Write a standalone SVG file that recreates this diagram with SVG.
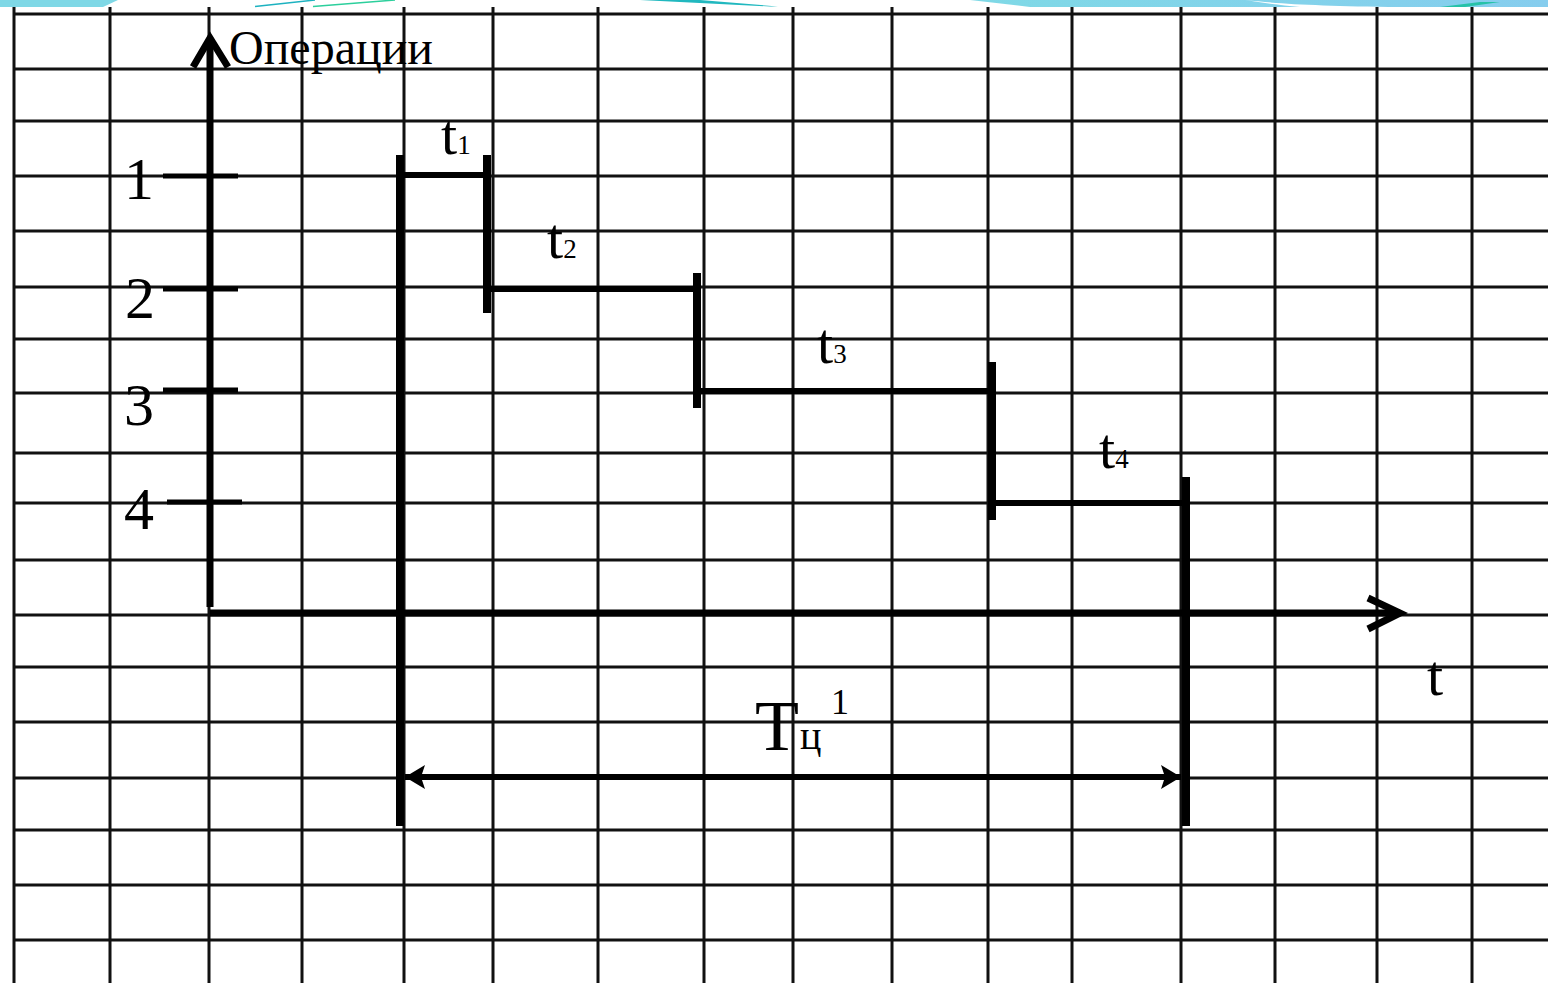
<svg xmlns="http://www.w3.org/2000/svg" width="1548" height="983" viewBox="0 0 1548 983">
<style>
.grid line{stroke:#111;stroke-width:3}
.ax{stroke:#000;stroke-width:7;fill:none;stroke-linecap:butt}
.g{stroke:#000;stroke-width:8;fill:none}
.gh{stroke:#000;stroke-width:6;fill:none}
.tk{stroke:#000;stroke-width:5;fill:none}
.lbl{font-family:"Liberation Serif","Times New Roman",serif;fill:#000}
</style>
<defs>
<marker id="dimArr" viewBox="0 0 20 24" refX="20" refY="12" markerWidth="20" markerHeight="24" markerUnits="userSpaceOnUse" orient="auto-start-reverse">
<path d="M0,0 L20,12 L0,24 L4,12 Z" fill="#000"/>
</marker>
<linearGradient id="band" x1="0" y1="0" x2="1" y2="0">
<stop offset="0" stop-color="#7fd9e6"/>
<stop offset="1" stop-color="#86cdee"/>
</linearGradient>
</defs>
<rect x="0" y="0" width="1548" height="983" fill="#fff"/>
<g id="band-top">
<polygon points="0,0 118,0 103,7 0,7" fill="#7fd8e6"/>
<line x1="255" y1="6.5" x2="315" y2="0" stroke="#1db2c0" stroke-width="1.5"/>
<line x1="313" y1="6.5" x2="395" y2="0" stroke="#2ccf9c" stroke-width="1.5"/>
<polygon points="640,0 700,0 778,6.5 770,6.5" fill="#21b8bf"/>
<polygon points="970,0 1548,0 1548,7 1030,7" fill="url(#band)"/>
<path d="M1245,0 C1280,4 1320,6 1400,7 L1300,7 C1280,5 1262,3 1245,0 Z" fill="#fff"/>
<polygon points="1440,7 1480,2 1500,2 1465,7" fill="#26c2a8"/>
</g>
<g id="grid" class="grid">
<line x1="14" y1="7" x2="14" y2="983"/>
<line x1="110" y1="7" x2="110" y2="983"/>
<line x1="209" y1="7" x2="209" y2="983"/>
<line x1="302" y1="7" x2="302" y2="983"/>
<line x1="404" y1="7" x2="404" y2="983"/>
<line x1="493" y1="7" x2="493" y2="983"/>
<line x1="598" y1="7" x2="598" y2="983"/>
<line x1="704" y1="7" x2="704" y2="983"/>
<line x1="793" y1="7" x2="793" y2="983"/>
<line x1="892" y1="7" x2="892" y2="983"/>
<line x1="988" y1="7" x2="988" y2="983"/>
<line x1="1072" y1="7" x2="1072" y2="983"/>
<line x1="1181" y1="7" x2="1181" y2="983"/>
<line x1="1275" y1="7" x2="1275" y2="983"/>
<line x1="1377" y1="7" x2="1377" y2="983"/>
<line x1="1472" y1="7" x2="1472" y2="983"/>
<line x1="14" y1="14" x2="1548" y2="14"/>
<line x1="14" y1="69" x2="1548" y2="69"/>
<line x1="14" y1="121" x2="1548" y2="121"/>
<line x1="14" y1="176" x2="1548" y2="176"/>
<line x1="14" y1="231" x2="1548" y2="231"/>
<line x1="14" y1="287" x2="1548" y2="287"/>
<line x1="14" y1="339" x2="1548" y2="339"/>
<line x1="14" y1="393" x2="1548" y2="393"/>
<line x1="14" y1="453" x2="1548" y2="453"/>
<line x1="14" y1="503" x2="1548" y2="503"/>
<line x1="14" y1="560" x2="1548" y2="560"/>
<line x1="14" y1="615" x2="1548" y2="615"/>
<line x1="14" y1="667" x2="1548" y2="667"/>
<line x1="14" y1="722" x2="1548" y2="722"/>
<line x1="14" y1="778" x2="1548" y2="778"/>
<line x1="14" y1="830" x2="1548" y2="830"/>
<line x1="14" y1="885" x2="1548" y2="885"/>
<line x1="14" y1="940" x2="1548" y2="940"/>
</g>
<g id="axes">
<line class="ax" x1="210" y1="607" x2="210" y2="38"/>
<polyline class="ax" points="193,67 210,38 228,67"/>
<line class="ax" x1="210" y1="613" x2="1400" y2="613"/>
<polyline class="ax" points="1368,598 1400,613 1368,629"/>
<line class="tk" x1="163" y1="176" x2="238" y2="176"/>
<line class="tk" x1="163" y1="289" x2="238" y2="289"/>
<line class="tk" x1="163" y1="390" x2="238" y2="390"/>
<line class="tk" x1="167" y1="502" x2="242" y2="502"/>
<text class="lbl" x="229" y="64" font-size="48">Операции</text>
<text class="lbl" x="139" y="199" font-size="60" text-anchor="middle">1</text>
<text class="lbl" x="140" y="318" font-size="60" text-anchor="middle">2</text>
<text class="lbl" x="139" y="425" font-size="60" text-anchor="middle">3</text>
<text class="lbl" x="139" y="529" font-size="60" text-anchor="middle">4</text>
<text class="lbl" x="1427" y="695" font-size="58">t</text>
</g>
<g id="connectors">
<line class="g" x1="400" y1="155" x2="400" y2="826"/>
<line class="gh" x1="400" y1="175" x2="487" y2="175"/>
<line class="g" x1="487" y1="155" x2="487" y2="313"/>
<line class="gh" x1="487" y1="289" x2="697" y2="289"/>
<line class="g" x1="697" y1="273" x2="697" y2="408"/>
<line class="gh" x1="697" y1="391" x2="992" y2="391"/>
<line class="g" x1="992" y1="362" x2="992" y2="520"/>
<line class="gh" x1="992" y1="503" x2="1186" y2="503"/>
<line class="g" x1="1186" y1="477" x2="1186" y2="826"/>
<line class="gh" x1="405" y1="777" x2="1181" y2="777" marker-start="url(#dimArr)" marker-end="url(#dimArr)"/>
</g>
<g id="t1"><text class="lbl" x="441" y="154" font-size="58">t<tspan font-size="27">1</tspan></text></g>
<g id="t2"><text class="lbl" x="547" y="258" font-size="58">t<tspan font-size="27">2</tspan></text></g>
<g id="t3"><text class="lbl" x="817" y="363" font-size="58">t<tspan font-size="27">3</tspan></text></g>
<g id="t4"><text class="lbl" x="1099" y="468" font-size="58">t<tspan font-size="27">4</tspan></text></g>
<g id="Tc">
<text class="lbl" x="755" y="750" font-size="72">Т</text>
<text class="lbl" x="800" y="749" font-size="40">ц</text>
<text class="lbl" x="831" y="714" font-size="36">1</text>
</g>
</svg>
